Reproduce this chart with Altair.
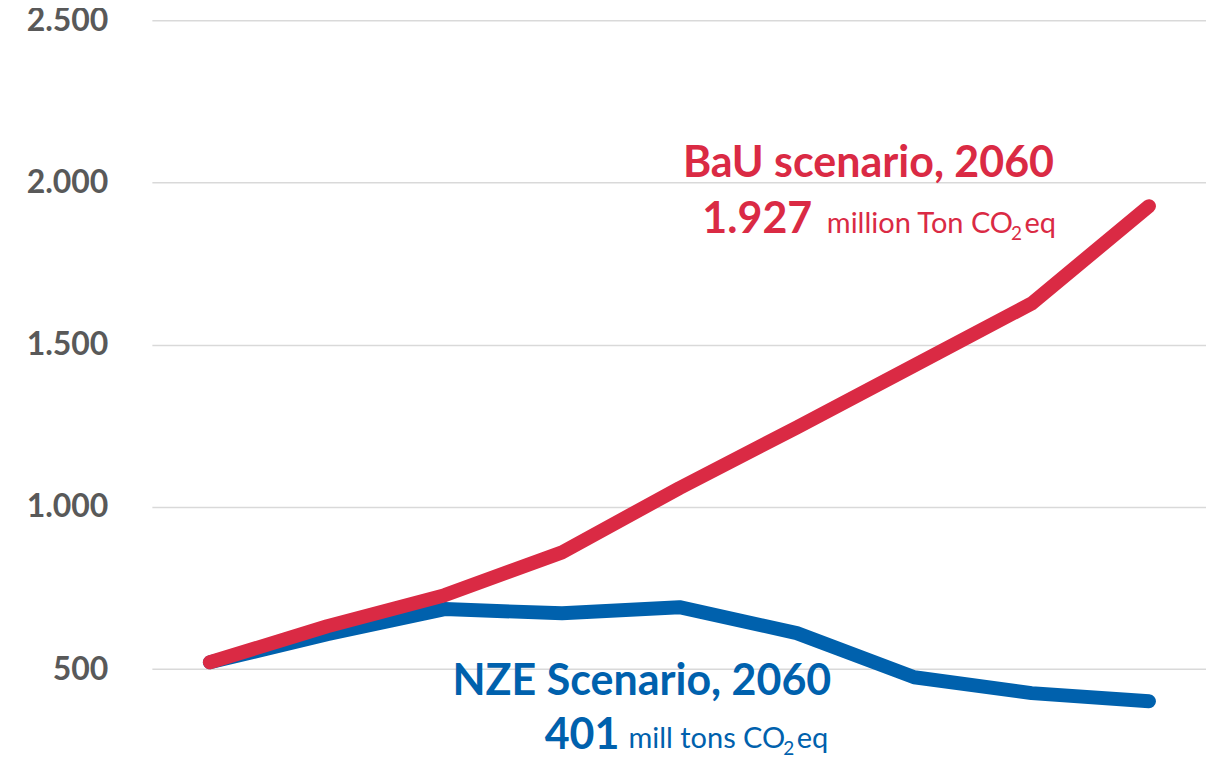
import altair as alt
import pandas as pd

# ---- data ----
years = [2020, 2025, 2030, 2035, 2040, 2045, 2050, 2055, 2060]
bau = [521, 632, 728, 860, 1058, 1245, 1436, 1627, 1927]
nze = [521, 608, 685, 672, 691, 611, 475, 426, 401]
y_ticks = [500, 1000, 1500, 2000, 2500]

scenarios = ["BaU", "NZE"]
titles = ["BaU scenario, 2060", "NZE Scenario, 2060"]
numbers = ["1.927", "401"]
unit_main = ["million Ton CO", "mill tons CO"]
unit_sub = ["2", "2"]
unit_end = ["eq", "eq"]

RED = "#DA2A44"
BLUE = "#0061AD"
FONT = "Lato"

df = pd.DataFrame({
    "year": years + years,
    "value": bau + nze,
    "scenario": ["BaU"] * len(years) + ["NZE"] * len(years),
})
ann = pd.DataFrame({
    "year": [years[-1], years[-1]],
    "value": [bau[-1], nze[-1]],
    "scenario": scenarios,
    "title": titles,
    "num": numbers,
    "umain": unit_main,
    "usub": unit_sub,
    "uend": unit_end,
})

x = alt.X("year:Q", scale=alt.Scale(domain=[2017.53, 2062.43]), axis=None)
y = alt.Y(
    "value:Q",
    scale=alt.Scale(domain=[267, 2500], nice=False, zero=False),
    axis=alt.Axis(
        values=y_ticks,
        labelExpr="replace(format(datum.value, ','), ',', '.')",
        domain=False,
        ticks=False,
        labelFont=FONT,
        labelFontSize=32,
        labelFontWeight="bold",
        labelColor="#595959",
        labelPadding=44,
        gridColor="#D9D9D9",
        gridWidth=1.5,
        title=None,
    ),
)

base = alt.Chart(df).encode(x=x, y=y)
line_kw = dict(strokeWidth=14, strokeCap="round", strokeJoin="round")
blue_line = base.transform_filter(alt.datum.scenario == "NZE").mark_line(color=BLUE, **line_kw)
red_line = base.transform_filter(alt.datum.scenario == "BaU").mark_line(color=RED, **line_kw)


def txt(scen, field, color, dx, dy, size, weight):
    return (
        alt.Chart(ann)
        .transform_filter(alt.datum.scenario == scen)
        .mark_text(align="right", baseline="alphabetic", dx=dx, dy=dy, font=FONT,
                   fontSize=size, fontWeight=weight, color=color)
        .encode(x=x, y=y, text=f"{field}:N")
    )


layers = [
    blue_line,
    red_line,
    # BaU annotation
    txt("BaU", "title", RED, -95, -29, 43, "bold"),
    txt("BaU", "num", RED, -337, 27, 43, "bold"),
    txt("BaU", "umain", RED, -136, 27, 29, "normal"),
    txt("BaU", "usub", RED, -127, 34, 19, "normal"),
    txt("BaU", "uend", RED, -93, 27, 29, "normal"),
    # NZE annotation
    txt("NZE", "title", BLUE, -318, -6, 43, "bold"),
    txt("NZE", "num", BLUE, -530, 48, 43, "bold"),
    txt("NZE", "umain", BLUE, -364, 47, 29, "normal"),
    txt("NZE", "usub", BLUE, -355, 54, 19, "normal"),
    txt("NZE", "uend", BLUE, -321, 47, 29, "normal"),
]

chart = (
    alt.layer(*layers)
    .properties(
        width=1055,
        height=725,
        autosize="none",
        padding={"left": 144, "top": 12, "right": 0, "bottom": 16},
    )
    .configure_view(stroke=None)
)

chart.save("out.html", embed_options={"renderer": "svg", "actions": False})
